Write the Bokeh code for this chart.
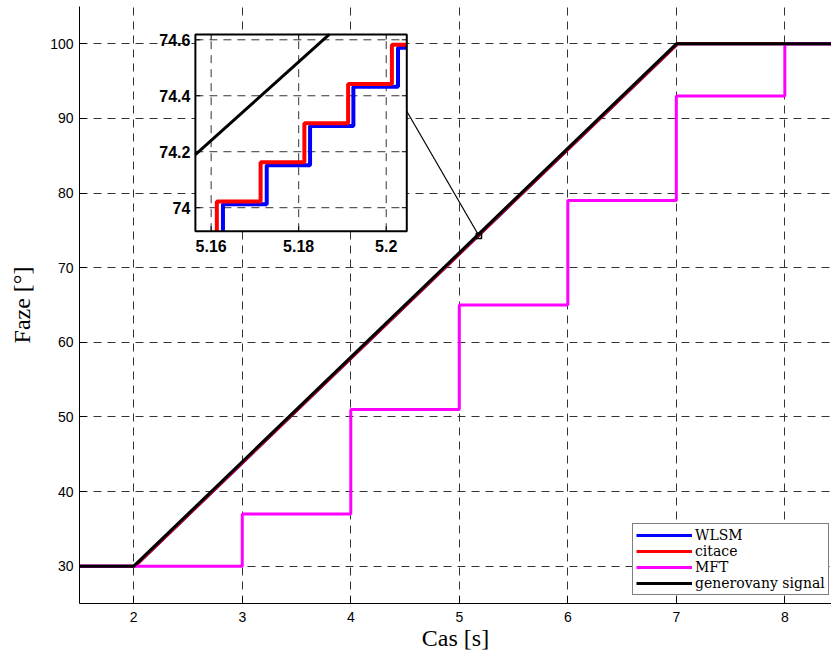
import math
from bokeh.plotting import figure
from bokeh.models import Range1d, Legend, LegendItem, FixedTicker
from bokeh.embed import file_html
from bokeh.resources import INLINE
from bokeh.core.properties import value

# ---------------- data ----------------
x_ticks = [2, 3, 4, 5, 6, 7, 8]
y_ticks = [30, 40, 50, 60, 70, 80, 90, 100]

gen_t = [1.5, 2.0, 7.0, 8.5]
gen_v = [30, 30, 100, 100]
citace_t = [1.5, 2.01, 7.01, 8.5]
citace_v = [30, 30, 100, 100]
wlsm_t = [1.5, 2.013, 7.013, 8.5]
wlsm_v = [30, 30, 100, 100]
mft_t = [1.5, 3, 4, 5, 6, 7, 8, 8.5]
mft_v = [30, 37, 51, 65, 79, 93, 100, 100]

# zoomed detail
zoom_x_range = (5.1564, 5.2047)
zoom_y_range = (73.916, 74.619)
zoom_xticks = [5.16, 5.18, 5.20]
zoom_xlabels = ["5.16", "5.18", "5.2"]
zoom_yticks = [74.0, 74.2, 74.4, 74.6]
zoom_ylabels = ["74", "74.2", "74.4", "74.6"]
citace_zoom_t = [5.1613, 5.1713, 5.1813, 5.1913, 5.2013]
citace_zoom_v = [74.022, 74.162, 74.302, 74.442, 74.582]
wlsm_zoom_t = [5.1627, 5.1727, 5.1826, 5.1925, 5.2027]
wlsm_zoom_v = [74.012, 74.152, 74.292, 74.432, 74.572]
gen_zoom_t = [5.1564, 5.1870]
gen_zoom_v = [74.19, 74.619]

# ---------------- layout constants ----------------
INSET_X = (2.568, 4.516)     # inset frame in main data coords
INSET_Y = (74.89, 101.25)
CONN_START_Y = 90.97
CONN_END = (5.17, 74.54)

BLUE = "#0000ff"
RED = "#ff0000"
MAG = "#ff00ff"
BLACK = "#000000"
GRID = "#333333"
SANS = "Liberation Sans"
SERIF = "Liberation Serif"

p = figure(width=831, height=656, output_backend="svg", toolbar_location=None,
           x_range=Range1d(1.5, 8.43), y_range=Range1d(25, 105),
           min_border_left=79, min_border_right=0, min_border_top=6,
           min_border_bottom=53)
p.outline_line_color = None
p.background_fill_color = "white"

for ax in (p.xaxis[0], p.yaxis[0]):
    ax.major_tick_in = 7
    ax.major_tick_out = 0
    ax.minor_tick_line_color = None
    ax.axis_line_color = BLACK
    ax.major_tick_line_color = BLACK
    ax.major_label_text_font = SANS
    ax.major_label_text_font_size = "14px"
    ax.major_label_text_color = BLACK
    ax.axis_label_text_font = SERIF
    ax.axis_label_text_font_size = "24px"
    ax.axis_label_text_font_style = "normal"
    ax.axis_label_text_color = BLACK

p.xaxis.ticker = FixedTicker(ticks=x_ticks)
p.yaxis.ticker = FixedTicker(ticks=y_ticks)
p.xaxis.axis_label = "Cas [s]"
p.yaxis.axis_label = "Faze [°]"
p.xaxis.major_label_standoff = 8
p.yaxis.major_label_standoff = 6
p.xaxis.axis_label_standoff = 0
p.yaxis.axis_label_standoff = 12

for g in (p.xgrid[0], p.ygrid[0]):
    g.grid_line_color = GRID
    g.grid_line_dash = "8 6"
    g.grid_line_width = 1
p.xgrid.ticker = FixedTicker(ticks=x_ticks)
p.ygrid.ticker = FixedTicker(ticks=y_ticks)

r_wlsm = p.line(wlsm_t, wlsm_v, line_color=BLUE, line_width=3)
r_cit = p.line(citace_t, citace_v, line_color=RED, line_width=3)
r_mft = p.step(mft_t, mft_v, mode="after", line_color=MAG, line_width=3)
r_gen = p.line(gen_t, gen_v, line_color=BLACK, line_width=3)

# zoom marker rectangle and connector
p.quad(left=[zoom_x_range[0]], right=[zoom_x_range[1]],
       bottom=[zoom_y_range[0]], top=[zoom_y_range[1]],
       fill_color=None, line_color=BLACK, line_width=1.5)
p.segment(x0=[INSET_X[1]], y0=[CONN_START_Y], x1=[CONN_END[0]], y1=[CONN_END[1]],
          line_color=BLACK, line_width=1.2)

# inset background
p.quad(left=[INSET_X[0]], right=[INSET_X[1]], bottom=[INSET_Y[0]], top=[INSET_Y[1]],
       fill_color="white", line_color=None)

z = p.subplot(x_source=Range1d(*zoom_x_range), y_source=Range1d(*zoom_y_range),
              x_target=Range1d(*INSET_X), y_target=Range1d(*INSET_Y))

zx0, zx1 = zoom_x_range
zy0, zy1 = zoom_y_range
# inset grid
z.segment(x0=zoom_xticks, x1=zoom_xticks, y0=[zy0] * 3, y1=[zy1] * 3,
          line_color=GRID, line_dash="8 6", line_width=1)
z.segment(x0=[zx0] * 4, x1=[zx1] * 4, y0=zoom_yticks, y1=zoom_yticks,
          line_color=GRID, line_dash="8 6", line_width=1)


def stepped(ts, vs, xend):
    xs = [ts[0]] + list(ts) + [xend]
    ys = [zy0] + list(vs) + [vs[-1]]
    return xs, ys


bx, by = stepped(wlsm_zoom_t, wlsm_zoom_v, zx1)
z.step(bx, by, mode="after", line_color=BLUE, line_width=4)
rx, ry = stepped(citace_zoom_t, citace_zoom_v, zx1)
z.step(rx, ry, mode="after", line_color=RED, line_width=4)
z.line(gen_zoom_t, gen_zoom_v, line_color=BLACK, line_width=3)

# inset ticks (inward)
z.ray(x=zoom_xticks, y=[zy0] * 3, length=5, length_units="screen", angle=math.pi / 2,
      line_color=BLACK, line_width=1)
z.ray(x=zoom_xticks, y=[zy1] * 3, length=5, length_units="screen", angle=-math.pi / 2,
      line_color=BLACK, line_width=1)
z.ray(x=[zx0] * 4, y=zoom_yticks, length=5, length_units="screen", angle=0,
      line_color=BLACK, line_width=1)
z.ray(x=[zx1] * 4, y=zoom_yticks, length=5, length_units="screen", angle=math.pi,
      line_color=BLACK, line_width=1)

# inset border
p.quad(left=[INSET_X[0]], right=[INSET_X[1]], bottom=[INSET_Y[0]], top=[INSET_Y[1]],
       fill_color=None, line_color=BLACK, line_width=2)

# inset tick labels
z.text(x=zoom_xticks, y=[zy0] * 3, text=zoom_xlabels, text_align="center",
       text_baseline="top", y_offset=9, text_font=value(SANS), text_font_style="bold",
       text_font_size="16px", text_color=BLACK)
z.text(x=[zx0] * 4, y=zoom_yticks, text=zoom_ylabels, text_align="right",
       text_baseline="middle", x_offset=-5, text_font=value(SANS), text_font_style="bold",
       text_font_size="16px", text_color=BLACK)

legend = Legend(items=[
    LegendItem(label="WLSM", renderers=[r_wlsm]),
    LegendItem(label="citace", renderers=[r_cit]),
    LegendItem(label="MFT", renderers=[r_mft]),
    LegendItem(label="generovany signal", renderers=[r_gen]),
], location=(553, 8))
legend.label_text_font = "DejaVu Serif"
legend.label_text_font_size = "14px"
legend.label_text_color = BLACK
legend.label_height = 14
legend.glyph_height = 14
legend.glyph_width = 56
legend.spacing = 0
legend.padding = 3
legend.margin = 0
legend.label_standoff = 3
legend.border_line_color = BLACK
legend.border_line_width = 1
legend.background_fill_alpha = 1
p.add_layout(legend, "center")

open("out.html", "w").write(file_html(p, INLINE))
